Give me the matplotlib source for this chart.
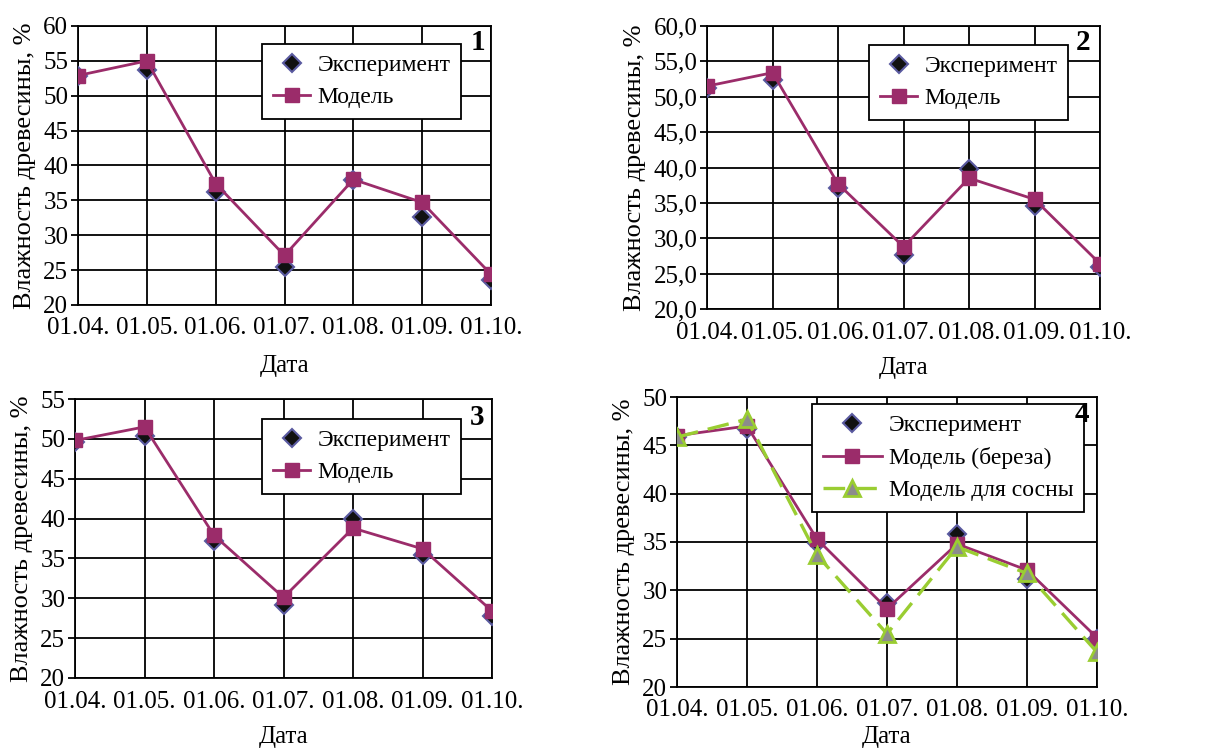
import matplotlib
matplotlib.use("Agg")
import matplotlib.pyplot as plt
from matplotlib.ticker import FuncFormatter

plt.rcParams['font.family'] = ['Liberation Serif', 'DejaVu Serif']

dates = ["01.04.", "01.05.", "01.06.", "01.07.", "01.08.", "01.09.", "01.10."]

exp1 = [52.8, 53.7, 36.2, 25.5, 37.9, 32.6, 23.6]
mod1 = [52.9, 55.0, 37.4, 27.1, 38.0, 34.7, 24.4]

exp2 = [51.3, 52.4, 37.1, 27.7, 39.8, 34.6, 26.0]
mod2 = [51.5, 53.4, 37.7, 28.8, 38.5, 35.5, 26.4]

exp3 = [49.6, 50.4, 37.2, 29.1, 40.0, 35.4, 27.8]
mod3 = [49.8, 51.5, 37.9, 30.1, 38.8, 36.2, 28.4]

exp4 = [45.9, 46.7, 34.9, 28.7, 35.8, 31.2, 25.0]
mod4 = [46.0, 47.0, 35.3, 28.1, 34.8, 32.1, 25.1]
pine4 = [45.85, 47.7, 33.65, 25.5, 34.5, 31.75, 23.6]

ylabel = "Влажность древесины, %"
xlabel = "Дата"

EXP_FACE = "#111111"
EXP_EDGE = "#5a5aa0"
MOD_COLOR = "#9b2c6a"
PINE_COLOR = "#9acd32"
PINE_FACE = "#8c8c8c"

W, H = 1213, 751
fig = plt.figure(figsize=(W / 100, H / 100), dpi=100)


def px_rect(left, right, top, bottom):
    return [left / W, 1 - bottom / H, (right - left) / W, (bottom - top) / H]


panels = [
    dict(rect=px_rect(78, 491, 26, 305), exp=exp1, mod=mod1, pine=None,
         ylim=(20, 60), fmt="{:.0f}", num="1", num_xy=(478, 42),
         leg_xy=(262, 44), hl=1.6, xlp=11),
    dict(rect=px_rect(707, 1100, 26, 309), exp=exp2, mod=mod2, pine=None,
         ylim=(20, 60), fmt="{:.1f}", num="2", num_xy=(1083, 43),
         leg_xy=(869, 45), hl=1.6, xlp=10),
    dict(rect=px_rect(75, 492, 399, 678), exp=exp3, mod=mod3, pine=None,
         ylim=(20, 55), fmt="{:.0f}", num="3", num_xy=(477, 417),
         leg_xy=(262, 419), hl=1.6, xlp=10),
    dict(rect=px_rect(677, 1097, 397, 687), exp=exp4, mod=mod4, pine=pine4,
         ylim=(20, 50), fmt="{:.0f}", num="4", num_xy=(1082, 415),
         leg_xy=(812, 404), hl=2.5, xlp=3),
]

x = list(range(len(dates)))
FS = 17

for p in panels:
    ax = fig.add_axes(p["rect"])
    handles = []
    h_exp, = ax.plot(x, p["exp"], linestyle="none", marker="D", markersize=9,
                     markerfacecolor=EXP_FACE, markeredgecolor=EXP_EDGE,
                     markeredgewidth=1.5, label="Эксперимент", zorder=3)
    handles.append(h_exp)
    mod_label = "Модель (береза)" if p["pine"] is not None else "Модель"
    h_mod, = ax.plot(x, p["mod"], color=MOD_COLOR, linewidth=2, marker="s",
                     markersize=10, markerfacecolor=MOD_COLOR,
                     markeredgecolor=MOD_COLOR, label=mod_label, zorder=4)
    handles.append(h_mod)
    if p["pine"] is not None:
        h_pine, = ax.plot(x, p["pine"], color=PINE_COLOR, linewidth=2.4,
                          linestyle=(0, (6.5, 3)), marker="^", markersize=12,
                          markerfacecolor=PINE_FACE, markeredgecolor=PINE_COLOR,
                          markeredgewidth=2, label="Модель для сосны", zorder=5)
        handles.append(h_pine)

    ax.set_xlim(0, len(dates) - 1)
    ax.set_ylim(*p["ylim"])
    ax.set_xticks(x)
    ax.set_xticklabels(dates)
    ax.set_yticks(list(range(p["ylim"][0], p["ylim"][1] + 1, 5)))
    fmt = p["fmt"]
    ax.yaxis.set_major_formatter(
        FuncFormatter(lambda v, pos, f=fmt: f.format(v).replace(".", ",")))
    ax.grid(True, color="black", linewidth=1.3)
    ax.set_axisbelow(True)
    for s in ax.spines.values():
        s.set_color("black")
        s.set_linewidth(1.3)
    ax.tick_params(axis="y", direction="out", length=5, width=1.3,
                   labelsize=FS + 1, pad=2)
    ax.tick_params(axis="x", direction="out", length=0, labelsize=FS + 1, pad=9)
    ax.set_ylabel(ylabel, fontsize=19, labelpad=5)
    ax.set_xlabel(xlabel, fontsize=FS + 1, labelpad=p["xlp"])

    lx, ly = p["leg_xy"]
    leg = ax.legend(handles=handles, loc="upper left",
                    bbox_to_anchor=(lx / W, 1 - ly / H),
                    bbox_transform=fig.transFigure,
                    fontsize=FS, frameon=True, fancybox=False, framealpha=1,
                    edgecolor="black", borderaxespad=0, handlelength=p["hl"],
                    handletextpad=0.3, borderpad=0.45, labelspacing=0.45)
    leg.get_frame().set_linewidth(1.3)
    leg.set_zorder(10)

    nx, ny = p["num_xy"]
    fig.text(nx / W, 1 - ny / H, p["num"], ha="center", va="center",
             fontsize=21, fontweight="bold", zorder=11)

fig.savefig("out.png", dpi=100)
